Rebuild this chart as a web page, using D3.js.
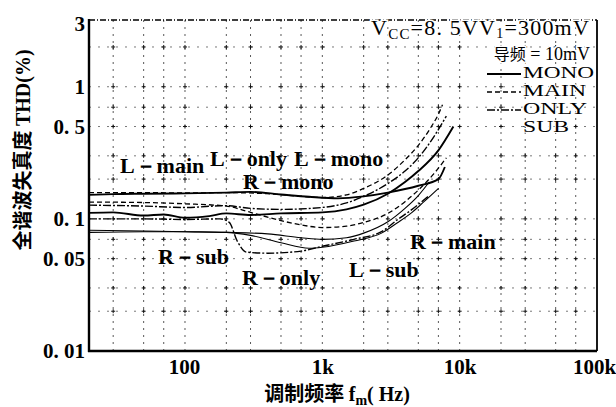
<!DOCTYPE html>
<html><head><meta charset="utf-8">
<script src="https://cdn.jsdelivr.net/npm/d3@7"></script>
<style>body{margin:0;background:#fff} svg{display:block}</style>
</head><body>
<svg id="c" width="616" height="407"></svg>
<script>
// ---------- data ----------
const xTickValues = [100, 1000, 10000, 100000];
const xTickLabels = ["100", "1k", "10k", "100k"];
const yTickValues = [3, 1, 0.5, 0.1, 0.05, 0.01];
const yTickLabels = ["3", "1", "0. 5", "0. 1", "0. 05", "0. 01"];
const xGrid = [30,50,70,100,200,300,500,700,1000,2000,3000,5000,7000,10000,20000,30000,50000,70000];
const yGrid = [0.02,0.03,0.05,0.07,0.1,0.2,0.3,0.5,0.7,1,2];

const rMono = [[20,.152],[30,.154],[50,.155],[100,.156],[200,.158],[300,.160],[500,.153],[800,.147],[1300,.143],[2000,.148],[3000,.158],[5000,.178],[7000,.200],[7800,.247]];
const lMain = [[20,.158],[50,.158],[100,.157],[200,.158],[400,.155],[700,.148],[1000,.145],[1500,.152],[2000,.170],[3000,.215],[4000,.280],[5000,.360],[6000,.470],[7000,.620],[7500,.730]];
const lOnly = [[20,.127],[50,.125],[100,.122],[200,.126],[300,.120],[500,.118],[1000,.122],[1500,.132],[2000,.148],[3000,.185],[4000,.230],[5000,.290],[6500,.420],[8000,.600]];
const lMono = [[20,.111],[30,.112],[50,.106],[70,.108],[100,.102],[150,.105],[200,.110],[300,.107],[500,.110],[1000,.112],[1500,.118],[2000,.128],[3000,.155],[4000,.190],[5000,.230],[7000,.330],[9000,.500]];
const rMain = [[20,.134],[50,.133],[100,.130],[200,.125],[300,.112],[500,.097],[700,.090],[1000,.086],[1500,.088],[2000,.094],[3000,.110],[4000,.135],[5000,.165],[6500,.220],[8000,.290]];
const rOnly = [[20,.100],[50,.100],[100,.099],[180,.100],[210,.094],[240,.068],[280,.056],[400,.055],[700,.057],[1000,.062],[1700,.070],[2700,.080],[3500,.098],[4500,.118],[6000,.150]];
const lSub  = [[20,.082],[50,.081],[100,.080],[200,.079],[300,.075],[500,.066],[800,.060],[1000,.061],[1700,.068],[2700,.078],[3500,.093],[4500,.112],[5500,.135],[7000,.170]];
const rSub  = [[20,.079],[50,.080],[100,.080],[200,.079],[400,.077],[700,.072],[1000,.070],[1500,.072],[2000,.078],[3000,.095],[4000,.120],[5000,.150],[6000,.190]];

const seriesNames = ["R-mono","L-main","L-only","L-mono","R-main","R-only","L-sub","R-sub"];
const seriesData  = [rMono, lMain, lOnly, lMono, rMain, rOnly, lSub, rSub];
const seriesKind  = ["MONO","MAIN","ONLY","MONO","MAIN","ONLY","SUB","SUB"];

const curveLabels = ["L－main","L－only","L－mono","R－mono","R－sub","R－only","L－sub","R－main"];
const labelFreqs  = [33.6, 152, 622, 265, 63.6, 260, 1566, 4356];
const labelVals   = [0.223, 0.251, 0.251, 0.168, 0.0456, 0.0316, 0.0363, 0.0592];

const legendKinds = ["MONO","MAIN","ONLY","SUB"];

// ---------- drawing ----------
const svg = d3.select("#c");
const x = d3.scaleLog().domain([20, 100000]).range([89, 597]);
const y = d3.scaleLog().domain([0.01, 3.2]).range([351, 20]);
const serif = "'Liberation Serif','DejaVu Serif',serif";
const cjk = "'Noto Sans CJK SC','Liberation Serif',serif";

const styles = {
  MONO: {dash: null, w: 1.9},
  MAIN: {dash: "5,3", w: 1.3},
  ONLY: {dash: "8,2,2,2", w: 1.4},
  SUB:  {dash: null, w: 1.1}
};

// grid
const g = svg.append("g");
g.selectAll(".vg").data(xGrid).join("line")
  .attr("x1", d => x(d)).attr("x2", d => x(d)).attr("y1", 20).attr("y2", 351)
  .attr("stroke", "#222").attr("stroke-width", 1).attr("stroke-dasharray", "2,5").attr("opacity", 0.75);
g.selectAll(".hg").data(yGrid).join("line")
  .attr("y1", d => y(d)).attr("y2", d => y(d)).attr("x1", 89).attr("x2", 597)
  .attr("stroke", "#222").attr("stroke-width", 1).attr("stroke-dasharray", "2,7").attr("opacity", 0.6);
const crosses = [];
xGrid.forEach(a => yGrid.forEach(b => crosses.push([a, b])));
g.selectAll(".cr").data(crosses).join("path")
  .attr("d", d => `M${x(d[0])-2},${y(d[1])}h4M${x(d[0])},${y(d[1])-2}v4`)
  .attr("stroke", "#111").attr("stroke-width", 1);

// frame
svg.append("line").attr("x1", 89).attr("x2", 89).attr("y1", 19).attr("y2", 352).attr("stroke", "#000").attr("stroke-width", 2.4);
svg.append("line").attr("x1", 88).attr("x2", 597).attr("y1", 351).attr("y2", 351).attr("stroke", "#000").attr("stroke-width", 2.4);
svg.append("line").attr("x1", 89).attr("x2", 597).attr("y1", 20).attr("y2", 20).attr("stroke", "#000").attr("stroke-width", 1.3).attr("stroke-dasharray", "6,2,1,2");
svg.append("line").attr("x1", 597).attr("x2", 597).attr("y1", 20).attr("y2", 351).attr("stroke", "#000").attr("stroke-width", 1.8);

// axes tick labels
const xAxis = d3.axisBottom(x).tickValues(xTickValues).tickFormat((d, i) => xTickLabels[i]).tickSize(0).tickPadding(8);
const xa = svg.append("g").attr("transform", "translate(0,351)").call(xAxis);
xa.select(".domain").remove();
xa.selectAll("text").attr("font-family", serif).attr("font-weight", "bold").attr("font-size", 21).attr("fill", "#000")
  .attr("dx", (d, i) => i === 3 ? -3 : (i === 0 ? -1 : 0));

const yAxis = d3.axisLeft(y).tickValues(yTickValues).tickFormat((d, i) => yTickLabels[i]).tickSize(0).tickPadding(4);
const ya = svg.append("g").attr("transform", "translate(89,0)").call(yAxis);
ya.select(".domain").remove();
ya.selectAll("text").attr("font-family", serif).attr("font-weight", "bold").attr("font-size", 21).attr("fill", "#000");

// curves
const line = d3.line().x(d => x(d[0])).y(d => y(d[1])).curve(d3.curveMonotoneX);
svg.append("g").selectAll("path").data(seriesData).join("path")
  .attr("d", line)
  .attr("fill", "none").attr("stroke", "#000")
  .attr("stroke-width", (d, i) => styles[seriesKind[i]].w)
  .attr("stroke-dasharray", (d, i) => styles[seriesKind[i]].dash);

// curve labels
svg.append("g").selectAll("text").data(curveLabels).join("text")
  .attr("x", (d, i) => x(labelFreqs[i])).attr("y", (d, i) => y(labelVals[i]))
  .attr("font-family", serif).attr("font-weight", "bold").attr("font-size", 22).attr("fill", "#000")
  .text(d => d);

// legend header
const lg = svg.append("g");
const t1 = lg.append("text").attr("x", 590).attr("y", 35).attr("text-anchor", "end")
  .attr("font-family", serif).attr("font-size", 22).attr("letter-spacing", 1.2).attr("fill", "#000")
  .attr("stroke", "#fff").attr("stroke-width", 3).attr("paint-order", "stroke");
t1.append("tspan").text("V");
t1.append("tspan").attr("dy", 4).attr("font-size", 15).text("CC");
t1.append("tspan").attr("dy", -4).text("=8. 5VV");
t1.append("tspan").attr("dy", 3).attr("font-size", 14).text("1");
t1.append("tspan").attr("dy", -3).text("=300mV");
const t2 = lg.append("text").attr("x", 590).attr("y", 60).attr("text-anchor", "end")
  .attr("font-family", serif).attr("font-size", 18).attr("fill", "#000")
  .attr("stroke", "#fff").attr("stroke-width", 3).attr("paint-order", "stroke");
t2.append("tspan").attr("font-family", cjk).attr("font-size", 16).text("导频");
t2.append("tspan").text(" = 10mV");

const legY = [78, 96, 114, 132];
const legW = [71, 63, 64, 46];
lg.selectAll(".lt").data(legendKinds).join("text")
  .attr("x", 523).attr("y", (d, i) => legY[i])
  .attr("font-family", serif).attr("font-size", 16).attr("fill", "#000")
  .attr("textLength", (d, i) => legW[i]).attr("lengthAdjust", "spacingAndGlyphs")
  .attr("stroke", "#fff").attr("stroke-width", 2).attr("paint-order", "stroke")
  .text(d => d);
lg.selectAll(".ll").data(legendKinds.slice(0, 3)).join("line")
  .attr("x1", 487).attr("x2", 521).attr("y1", (d, i) => legY[i] - 4).attr("y2", (d, i) => legY[i] - 4)
  .attr("stroke", "#000").attr("stroke-width", d => styles[d].w)
  .attr("stroke-dasharray", d => styles[d].dash);

// axis titles
const xt = svg.append("text").attr("x", 337).attr("y", 401).attr("text-anchor", "middle")
  .attr("font-weight", "bold").attr("font-size", 20).attr("fill", "#000");
xt.append("tspan").attr("font-family", cjk).text("调制频率 ");
xt.append("tspan").attr("font-family", serif).text("f");
xt.append("tspan").attr("font-family", serif).attr("font-size", 14).attr("dy", 4).text("m");
xt.append("tspan").attr("font-family", serif).attr("dy", -4).text("( Hz)");

const yt = svg.append("text").attr("transform", "translate(30,150) rotate(-90)").attr("text-anchor", "middle")
  .attr("font-weight", "bold").attr("font-size", 20).attr("fill", "#000");
yt.append("tspan").attr("font-family", cjk).text("全谐波失真度 ");
yt.append("tspan").attr("font-family", serif).text("THD(%)");
</script>
</body></html>
